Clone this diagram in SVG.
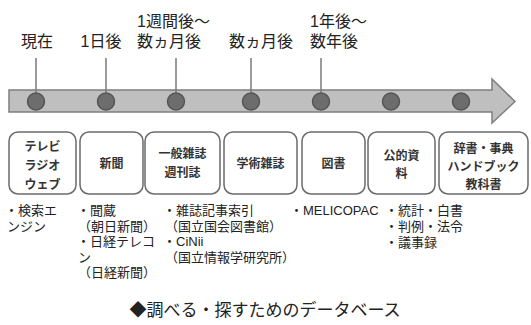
<svg xmlns="http://www.w3.org/2000/svg" width="531" height="325" viewBox="0 0 531 325">
<style>
text{font-family:"Liberation Sans","Noto Sans CJK JP",sans-serif;fill:#222;}
.top{font-size:16px;}
.lbl{font-size:12px;text-anchor:middle;font-weight:bold;fill:#333;}
.lst{font-size:13px;}
.ttl{font-size:17px;text-anchor:middle;}
.box{fill:#fff;stroke:#6b6b6b;stroke-width:1.5;}
.tick{stroke:#7a7a7a;stroke-width:1.5;}
.dot{fill:#6d6d6d;stroke:#555;stroke-width:1.5;}
</style>
<rect width="531" height="325" fill="#fff"/>
<g id="timeline">
<polygon points="9,90 492,90 492,79 515,101.5 492,123 492,112 9,112" fill="#bfbfbf" stroke="#7f7f7f" stroke-width="1.5"/>
</g>
<g id="connectors">
<line class="tick" x1="36" y1="58" x2="36" y2="101"/>
<line class="tick" x1="106" y1="58" x2="106" y2="101"/>
<line class="tick" x1="176" y1="58" x2="176" y2="101"/>
<line class="tick" x1="251" y1="58" x2="251" y2="101"/>
<line class="tick" x1="321" y1="58" x2="321" y2="101"/>
</g>
<g id="dots">
<circle class="dot" cx="36" cy="101.5" r="8.5"/>
<circle class="dot" cx="106" cy="101.5" r="8.5"/>
<circle class="dot" cx="176" cy="101.5" r="8.5"/>
<circle class="dot" cx="251" cy="101.5" r="8.5"/>
<circle class="dot" cx="321" cy="101.5" r="8.5"/>
<circle class="dot" cx="391" cy="101.5" r="8.5"/>
<circle class="dot" cx="461" cy="101.5" r="8.5"/>
</g>
<g id="time-labels">
<text class="top" x="37" y="47" text-anchor="middle">現在</text>
<text class="top" x="101" y="47" text-anchor="middle">1日後</text>
<text class="top" x="137" y="27">1週間後～</text>
<text class="top" x="137" y="47">数ヵ月後</text>
<text class="top" x="261" y="47" text-anchor="middle">数ヵ月後</text>
<text class="top" x="310" y="27">1年後～</text>
<text class="top" x="310" y="47">数年後</text>
</g>
<g id="box-tv">
<rect class="box" x="9" y="132" width="67" height="62" rx="9"/>
<text class="lbl" x="42.5" y="151">テレビ</text>
<text class="lbl" x="42.5" y="170">ラジオ</text>
<text class="lbl" x="42.5" y="189">ウェブ</text>
</g>
<g id="box-newspaper">
<rect class="box" x="80" y="132" width="63" height="62" rx="9"/>
<text class="lbl" x="111.5" y="168">新聞</text>
</g>
<g id="box-magazine">
<rect class="box" x="145" y="132" width="75" height="62" rx="9"/>
<text class="lbl" x="182.5" y="158">一般雑誌</text>
<text class="lbl" x="182.5" y="177">週刊誌</text>
</g>
<g id="box-journal">
<rect class="box" x="224" y="132" width="73" height="62" rx="9"/>
<text class="lbl" x="260.5" y="168">学術雑誌</text>
</g>
<g id="box-book">
<rect class="box" x="302" y="132" width="63" height="62" rx="9"/>
<text class="lbl" x="333.5" y="168">図書</text>
</g>
<g id="box-public">
<rect class="box" x="368" y="132" width="67" height="62" rx="9"/>
<text class="lbl" x="401.5" y="160">公的資</text>
<text class="lbl" x="401.5" y="178">料</text>
</g>
<g id="box-dictionary">
<rect class="box" x="439" y="132" width="89" height="62" rx="9"/>
<text class="lbl" x="483.5" y="153">辞書・事典</text>
<text class="lbl" x="483.5" y="171">ハンドブック</text>
<text class="lbl" x="483.5" y="189">教科書</text>
</g>
<g id="databases">
<text class="lst" x="5" y="215">・検索エ</text>
<text class="lst" x="7" y="230.5">ンジン</text>
<text class="lst" x="77" y="215">・聞蔵</text>
<text class="lst" x="78" y="230.5">（朝日新聞）</text>
<text class="lst" x="77" y="246">・日経テレコ</text>
<text class="lst" x="78" y="261.5">ン</text>
<text class="lst" x="78" y="277">（日経新聞）</text>
<text class="lst" x="163" y="215">・雑誌記事索引</text>
<text class="lst" x="165" y="230.5">（国立国会図書館）</text>
<text class="lst" x="163" y="246">・CiNii</text>
<text class="lst" x="165" y="261.5">（国立情報学研究所）</text>
<text class="lst" x="290" y="215">・MELICOPAC</text>
<text class="lst" x="385" y="215">・統計・白書</text>
<text class="lst" x="385" y="231">・判例・法令</text>
<text class="lst" x="385" y="247">・議事録</text>
</g>
<g id="title">
<text class="ttl" x="265" y="316">◆調べる・探すためのデータベース</text>
</g>
</svg>
